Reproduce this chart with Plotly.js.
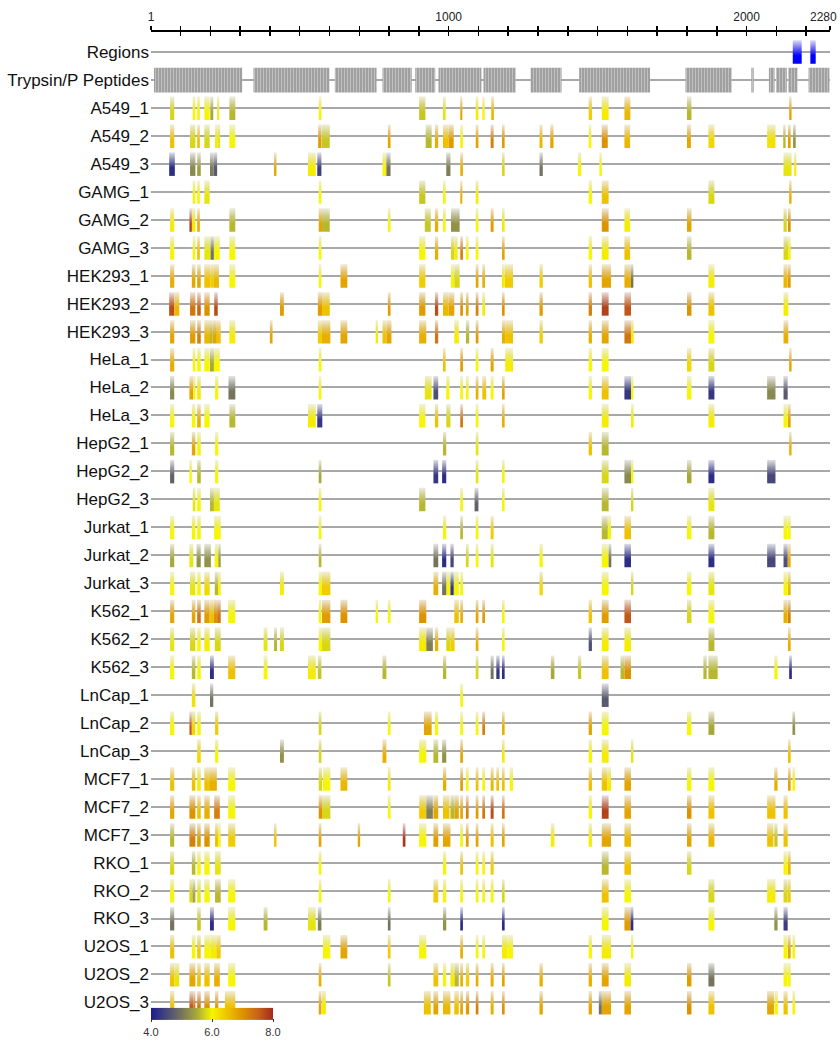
<!DOCTYPE html>
<html>
<head>
<meta charset="utf-8">
<script src="https://cdn.plot.ly/plotly-3.0.1.min.js"></script>
<style>
  html, body { margin: 0; padding: 0; background: #ffffff; }
  #chart { width: 840px; height: 1043px; }
</style>
</head>
<body>
<div id="chart"></div>
<script>
// Sequence ruler (residue positions)
const axisTickValues = [1, 100, 200, 300, 400, 500, 600, 700, 800, 900, 1000, 1100, 1200, 1300, 1400,
  1500, 1600, 1700, 1800, 1900, 2000, 2100, 2200, 2280];
const axisTickLabels = ['1', '', '', '', '', '', '', '', '', '', '1000', '', '', '', '',
  '', '', '', '', '', '2000', '', '', ''];
const sequenceLength = 2280;

// Annotated regions [start, end]
const regions = [[2155, 2185], [2214, 2232]];

// Theoretical Trypsin/P peptide coverage [start, end]
const trypsinPeptides = [[11, 307], [345, 600], [618, 758], [778, 876], [888, 955], [966, 1110],
  [1117, 1225], [1275, 1379], [1438, 1676], [1795, 1950], [2016, 2024], [2075, 2094],
  [2099, 2135], [2140, 2171], [2208, 2278]];

// Observed peptides per sample: [start, end, log10 intensity]
const A549_1 = [[65,79,5.8],[141,150,6.0],[156,165,6.0],[180,198,6.0],[200,210,5.5],[223,230,6.1],[264,284,5.6],[564,573,6.0],[901,922,5.7],[981,990,5.9],[1039,1046,6.8],[1091,1100,6.1],[1113,1121,6.0],[1143,1152,6.6],[1470,1481,6.4],[1514,1537,6.1],[1590,1610,6.6],[1800,1815,5.6],[2143,2151,6.8]];
const A549_2 = [[65,79,6.5],[132,150,5.8],[156,165,6.5],[180,198,5.8],[216,224,6.1],[224,233,5.9],[264,284,6.0],[562,573,6.9],[574,601,5.7],[796,805,6.8],[923,943,5.6],[954,965,6.7],[981,1000,6.5],[1000,1017,6.9],[1039,1048,6.0],[1091,1100,6.8],[1141,1151,7.2],[1179,1188,6.9],[1305,1315,6.6],[1341,1352,6.8],[1470,1479,6.0],[1514,1534,7.0],[1590,1609,6.6],[1800,1813,6.8],[1872,1892,6.3],[2069,2097,6.2],[2123,2131,5.6],[2139,2148,6.9],[2156,2165,5.3]];
const A549_3 = [[62,81,4.2],[132,150,5.2],[156,168,5.4],[199,211,5.1],[211,223,4.7],[414,422,6.8],[528,554,6.1],[559,573,4.4],[778,791,6.0],[791,805,5.0],[992,1006,5.1],[1039,1048,6.7],[1179,1188,5.8],[1305,1316,5.0],[1434,1445,6.0],[1506,1514,6.0],[2124,2151,5.9],[2160,2167,6.1]];
const GAMG_1 = [[141,150,6.0],[156,165,6.0],[180,198,5.9],[564,573,6.0],[901,922,5.7],[981,990,6.0],[1039,1046,6.7],[1091,1100,6.1],[1470,1481,6.0],[1514,1537,6.5],[1872,1892,5.8],[2143,2151,6.7]];
const GAMG_2 = [[65,79,6.1],[130,138,7.8],[138,150,6.1],[156,165,6.7],[264,284,5.6],[564,575,6.8],[575,601,5.6],[796,805,6.0],[920,940,5.7],[954,965,6.7],[981,990,6.0],[1008,1037,5.3],[1091,1100,6.0],[1141,1151,6.9],[1179,1188,6.1],[1514,1537,7.0],[1590,1609,6.1],[1800,1815,6.8],[2124,2135,5.8],[2139,2148,7.0]];
const GAMG_3 = [[65,79,6.0],[141,150,6.0],[156,165,6.5],[180,201,5.9],[201,212,5.0],[212,232,6.0],[264,284,6.0],[564,573,6.0],[901,922,6.0],[954,965,6.7],[1008,1019,5.8],[1019,1030,6.1],[1039,1048,7.2],[1058,1067,6.0],[1091,1100,6.0],[1179,1188,6.8],[1470,1481,6.0],[1514,1537,6.1],[1590,1609,6.5],[1800,1815,5.6],[2124,2140,5.8],[2140,2148,6.0]];
const HEK293_1 = [[65,79,6.7],[138,150,6.8],[156,168,6.8],[180,201,6.5],[201,212,6.4],[212,229,6.6],[264,284,6.0],[564,573,6.0],[637,660,6.8],[901,922,6.4],[1008,1019,6.0],[1019,1037,5.8],[1091,1100,6.8],[1113,1122,6.7],[1179,1188,6.1],[1188,1216,6.4],[1305,1316,6.4],[1470,1481,6.5],[1514,1545,6.8],[1590,1612,6.7],[1612,1620,5.0],[1872,1892,6.1],[2124,2138,6.6],[2139,2148,6.9]];
const HEK293_2 = [[62,79,7.7],[79,96,6.6],[132,150,7.3],[156,168,7.5],[180,198,7.0],[213,225,7.7],[434,447,6.9],[561,575,6.9],[575,601,6.5],[796,805,6.9],[901,922,6.9],[954,965,7.7],[981,1000,6.6],[1000,1019,6.8],[1039,1048,7.0],[1058,1067,6.8],[1091,1100,7.2],[1113,1122,6.1],[1179,1188,7.0],[1305,1316,6.9],[1470,1481,7.2],[1514,1537,7.8],[1590,1612,7.6],[1800,1815,7.0],[1872,1892,6.5],[2124,2140,6.1]];
const HEK293_3 = [[65,79,6.8],[132,150,6.9],[156,168,7.2],[180,199,6.6],[199,208,5.6],[208,222,6.8],[222,235,6.5],[264,284,6.1],[400,409,6.8],[561,575,6.4],[575,603,6.7],[637,660,6.8],[755,763,6.1],[778,791,6.5],[791,808,6.8],[901,925,6.7],[954,965,7.3],[1019,1034,6.1],[1058,1069,5.6],[1091,1100,6.9],[1179,1190,6.7],[1190,1216,6.5],[1305,1316,6.4],[1470,1481,6.7],[1514,1537,6.8],[1590,1612,7.3],[1612,1621,6.1],[1872,1892,6.0],[2124,2140,6.7]];
const HeLa_1 = [[65,79,6.7],[141,150,6.0],[156,168,6.0],[180,198,6.0],[199,212,5.5],[212,232,6.0],[564,573,6.0],[981,990,6.5],[1039,1048,6.9],[1091,1100,6.0],[1141,1151,6.8],[1190,1216,6.1],[1470,1481,6.0],[1514,1537,6.0],[1800,1815,6.3],[1872,1892,5.8],[2143,2151,6.8]];
const HeLa_2 = [[65,79,5.2],[130,143,6.8],[143,150,6.0],[156,168,6.1],[216,227,6.0],[261,284,5.0],[564,573,6.0],[920,943,5.9],[949,965,4.6],[992,1003,6.0],[1039,1048,6.0],[1058,1067,6.0],[1091,1100,6.7],[1113,1126,6.5],[1141,1151,6.0],[1179,1188,6.8],[1470,1481,6.0],[1514,1537,6.5],[1590,1612,4.3],[1612,1620,6.0],[1800,1815,6.0],[1872,1892,4.3],[2069,2097,5.2],[2124,2138,4.7]];
const HeLa_3 = [[65,79,6.0],[138,150,6.0],[156,168,6.7],[180,198,6.0],[264,284,5.6],[528,554,6.1],[559,576,4.3],[901,922,6.0],[954,965,6.5],[992,1006,5.8],[1039,1048,7.3],[1091,1100,6.0],[1179,1188,6.7],[1514,1537,6.1],[1612,1621,6.1],[1872,1892,6.1],[2124,2138,6.0],[2139,2148,6.8]];
const HepG2_1 = [[65,79,5.6],[138,150,6.8],[156,168,6.0],[216,227,6.0],[981,992,5.6],[1091,1100,5.9],[1470,1481,6.5],[1514,1537,5.6],[2143,2151,6.7]];
const HepG2_2 = [[65,79,4.8],[130,138,6.0],[156,168,5.6],[216,227,6.0],[564,573,5.5],[949,965,4.3],[978,992,4.2],[1091,1100,5.9],[1179,1188,6.0],[1514,1537,5.8],[1590,1612,5.2],[1612,1620,6.0],[1800,1815,5.5],[1872,1892,4.2],[2069,2097,4.5]];
const HepG2_3 = [[141,150,5.9],[156,168,6.0],[199,212,5.6],[212,232,5.9],[564,573,6.0],[901,922,5.6],[1039,1048,6.0],[1087,1100,4.8],[1179,1188,6.0],[1514,1537,5.6],[1612,1620,5.8],[1872,1892,5.9]];
const Jurkat_1 = [[65,79,6.0],[138,150,6.0],[156,168,6.0],[213,235,6.0],[564,573,6.0],[981,992,6.0],[1039,1048,5.6],[1091,1100,6.0],[1141,1151,6.4],[1514,1534,5.6],[1534,1545,6.0],[1590,1612,6.5],[1800,1815,6.0],[1872,1892,5.6],[2124,2138,6.0],[2139,2148,6.0]];
const Jurkat_2 = [[65,79,5.5],[130,143,5.9],[154,168,5.3],[180,202,5.3],[215,227,6.0],[227,235,5.4],[564,573,5.6],[949,965,5.0],[978,992,4.2],[1006,1017,4.5],[1058,1067,5.8],[1091,1100,6.0],[1141,1151,5.9],[1305,1316,6.0],[1514,1537,6.0],[1537,1546,5.0],[1590,1612,4.2],[1872,1892,4.2],[2069,2097,4.5],[2124,2138,4.6],[2139,2148,6.7]];
const Jurkat_3 = [[65,79,6.0],[132,150,5.9],[156,168,6.0],[180,198,6.3],[215,226,5.6],[226,235,6.0],[434,447,6.1],[564,575,6.0],[575,603,6.4],[949,965,6.7],[978,992,5.0],[992,1006,6.0],[1006,1017,4.3],[1017,1034,6.0],[1039,1048,6.0],[1305,1316,6.3],[1514,1537,6.0],[1612,1620,5.8],[1800,1815,6.0],[1872,1892,5.9],[2124,2138,6.0],[2139,2148,6.6]];
const K562_1 = [[65,79,6.8],[138,150,6.8],[156,168,7.3],[180,198,6.9],[198,212,6.5],[212,223,7.0],[223,235,7.3],[260,284,6.0],[564,573,6.0],[575,603,6.9],[637,660,7.0],[755,763,6.0],[796,805,6.0],[901,925,7.0],[1019,1034,6.5],[1039,1048,6.7],[1091,1100,6.8],[1113,1122,6.9],[1179,1188,6.0],[1470,1481,6.5],[1514,1537,6.9],[1590,1612,7.6],[1800,1815,5.8],[1872,1892,6.0],[2124,2138,6.7],[2139,2148,7.2]];
const K562_2 = [[65,79,5.9],[132,150,5.8],[156,168,6.0],[180,198,6.1],[215,235,5.8],[379,392,5.9],[414,424,5.6],[434,447,5.8],[564,575,6.0],[575,603,5.8],[901,925,6.1],[925,947,5.1],[954,965,6.7],[992,1006,5.8],[1006,1020,6.4],[1091,1100,6.7],[1179,1188,6.0],[1470,1481,4.6],[1514,1537,6.1],[1590,1612,6.1],[1872,1892,5.6],[2139,2148,6.7]];
const K562_3 = [[65,79,6.0],[138,150,5.6],[156,168,6.0],[199,212,4.2],[260,284,6.5],[379,392,6.0],[528,554,6.1],[561,573,5.7],[778,791,5.6],[981,992,5.6],[1091,1100,5.8],[1141,1151,5.0],[1160,1171,4.3],[1179,1188,4.2],[1343,1355,5.5],[1434,1445,5.7],[1514,1537,6.5],[1577,1590,5.6],[1590,1612,7.0],[1855,1866,5.6],[1872,1903,5.6],[2093,2104,6.0],[2143,2152,4.2]];
const LnCap_1 = [[138,150,6.2],[199,210,5.0],[1039,1048,6.0],[1514,1537,4.7]];
const LnCap_2 = [[65,79,6.0],[130,138,7.6],[138,150,6.3],[156,168,6.0],[216,227,6.4],[564,573,5.8],[796,805,6.0],[917,943,6.8],[954,965,6.0],[1039,1048,6.0],[1091,1100,6.0],[1113,1122,7.2],[1179,1188,6.7],[1470,1481,6.8],[1514,1537,6.0],[1800,1815,6.0],[1872,1892,5.5],[2154,2163,5.3]];
const LnCap_3 = [[156,168,6.3],[216,227,6.0],[434,447,5.3],[564,573,5.8],[778,791,6.7],[901,925,6.0],[949,965,5.6],[978,992,5.3],[1039,1048,6.8],[1179,1188,6.1],[1470,1481,6.0],[1514,1537,6.1],[1612,1620,5.9],[2139,2148,6.5]];
const MCF7_1 = [[65,79,6.5],[138,150,6.5],[156,168,6.1],[180,199,6.5],[199,222,6.7],[260,284,6.0],[564,575,5.8],[578,603,6.0],[637,660,6.6],[796,805,6.1],[981,992,6.7],[1039,1048,6.9],[1058,1067,6.0],[1091,1100,6.5],[1113,1122,6.0],[1141,1151,6.6],[1160,1169,6.5],[1179,1188,6.5],[1205,1216,6.0],[1470,1481,6.5],[1514,1532,6.5],[1532,1545,6.1],[1590,1612,6.8],[1800,1815,6.0],[1872,1892,6.0],[2093,2104,6.7],[2139,2148,6.8],[2154,2163,6.0]];
const MCF7_2 = [[65,79,6.8],[130,150,7.0],[156,168,6.5],[180,198,6.7],[213,232,7.2],[260,284,6.0],[564,575,7.0],[575,603,5.8],[796,805,6.0],[901,925,6.4],[925,947,5.1],[949,965,6.8],[981,1003,6.5],[1006,1020,5.6],[1020,1034,6.8],[1039,1048,6.8],[1058,1067,7.2],[1091,1100,6.9],[1113,1122,7.3],[1141,1151,7.7],[1179,1188,7.3],[1470,1481,6.0],[1514,1537,7.8],[1590,1612,6.8],[1800,1815,7.0],[1872,1892,6.5],[2069,2097,6.5],[2124,2138,6.5]];
const MCF7_3 = [[65,79,5.6],[130,150,7.2],[156,168,6.9],[180,198,7.0],[216,227,6.5],[227,235,6.0],[260,284,6.4],[414,422,6.5],[564,573,6.8],[695,703,6.8],[846,855,7.9],[901,925,6.0],[949,965,6.9],[981,1006,6.8],[1039,1048,6.0],[1058,1067,6.9],[1091,1100,6.8],[1141,1151,6.5],[1179,1188,6.8],[1343,1355,6.1],[1470,1481,6.1],[1514,1545,6.8],[1590,1612,6.6],[1800,1815,6.8],[1872,1892,6.6],[2069,2090,6.5],[2093,2104,5.7],[2124,2138,6.5]];
const RKO_1 = [[65,79,5.8],[138,150,5.6],[156,168,6.0],[180,198,6.0],[216,235,5.9],[564,573,6.0],[981,992,6.0],[1039,1048,6.5],[1091,1100,6.0],[1113,1122,6.0],[1141,1151,6.4],[1514,1537,5.6],[1590,1612,6.5],[1800,1815,5.8],[2124,2138,6.0],[2139,2148,6.6]];
const RKO_2 = [[65,79,6.0],[130,140,5.8],[140,150,5.5],[156,168,5.9],[180,198,6.0],[216,235,5.6],[260,284,6.0],[564,573,6.0],[796,805,6.0],[949,965,6.4],[981,992,6.0],[1039,1048,6.0],[1091,1100,6.0],[1113,1122,6.0],[1141,1151,6.0],[1179,1188,5.8],[1514,1537,6.5],[1590,1612,6.0],[1872,1892,5.8],[2069,2097,6.1],[2124,2138,5.8],[2139,2148,6.4]];
const RKO_3 = [[65,79,5.0],[156,168,5.7],[199,212,4.2],[260,284,6.0],[379,392,5.6],[528,554,5.9],[561,573,5.1],[796,805,5.0],[981,992,5.3],[1039,1048,4.2],[1179,1188,4.2],[1514,1537,6.0],[1590,1610,6.9],[1610,1620,4.2],[1872,1892,6.0],[2093,2104,5.3],[2124,2138,4.4]];
const U2OS_1 = [[65,79,6.5],[138,150,6.0],[156,168,6.4],[180,201,6.0],[201,220,6.1],[220,235,6.4],[578,603,6.0],[637,660,6.8],[796,805,6.4],[901,925,6.0],[1039,1048,6.7],[1091,1100,6.0],[1113,1122,6.0],[1179,1197,6.1],[1197,1216,6.0],[1470,1481,6.0],[1514,1545,6.1],[1612,1620,6.0],[2124,2138,6.0],[2139,2148,6.8],[2154,2163,6.0]];
const U2OS_2 = [[65,79,6.5],[79,96,5.9],[130,150,6.8],[156,168,6.5],[180,198,6.5],[213,232,6.7],[260,284,6.0],[564,573,6.7],[796,805,5.7],[949,965,6.5],[981,992,6.0],[1006,1020,6.1],[1020,1034,5.6],[1039,1048,6.7],[1058,1069,6.4],[1091,1100,6.7],[1141,1151,6.7],[1179,1188,6.8],[1305,1316,6.7],[1470,1481,6.7],[1514,1537,6.8],[1590,1612,6.1],[1800,1815,6.9],[1872,1892,5.0],[2124,2138,6.0],[2139,2148,6.0]];
const U2OS_3 = [[65,79,6.5],[130,143,7.6],[143,150,7.3],[156,168,7.3],[180,198,7.0],[216,227,6.9],[249,284,6.5],[564,573,6.8],[575,588,6.1],[917,940,6.5],[949,965,6.8],[981,1006,6.6],[1019,1034,6.5],[1039,1048,6.8],[1058,1069,6.9],[1091,1100,7.2],[1141,1151,6.7],[1179,1188,7.0],[1305,1316,6.8],[1470,1481,6.8],[1504,1514,5.0],[1514,1545,6.8],[1590,1612,6.8],[1800,1815,7.0],[1872,1892,6.5],[2069,2092,6.8],[2094,2105,6.0],[2124,2138,6.5],[2154,2163,6.0]];

// Intensity colour scale (log10)
const scaleValues = [4.0, 4.5, 5.0, 5.5, 6.0, 6.5, 7.0, 7.5, 8.0];
const scaleColors = ['#1c1c8e', '#47477a', '#74745e', '#a8a83a', '#f6f600', '#efc200', '#dd9200', '#c8641a', '#a42a1c'];

const samples = [
  ['A549_1', A549_1], ['A549_2', A549_2], ['A549_3', A549_3],
  ['GAMG_1', GAMG_1], ['GAMG_2', GAMG_2], ['GAMG_3', GAMG_3],
  ['HEK293_1', HEK293_1], ['HEK293_2', HEK293_2], ['HEK293_3', HEK293_3],
  ['HeLa_1', HeLa_1], ['HeLa_2', HeLa_2], ['HeLa_3', HeLa_3],
  ['HepG2_1', HepG2_1], ['HepG2_2', HepG2_2], ['HepG2_3', HepG2_3],
  ['Jurkat_1', Jurkat_1], ['Jurkat_2', Jurkat_2], ['Jurkat_3', Jurkat_3],
  ['K562_1', K562_1], ['K562_2', K562_2], ['K562_3', K562_3],
  ['LnCap_1', LnCap_1], ['LnCap_2', LnCap_2], ['LnCap_3', LnCap_3],
  ['MCF7_1', MCF7_1], ['MCF7_2', MCF7_2], ['MCF7_3', MCF7_3],
  ['RKO_1', RKO_1], ['RKO_2', RKO_2], ['RKO_3', RKO_3],
  ['U2OS_1', U2OS_1], ['U2OS_2', U2OS_2], ['U2OS_3', U2OS_3]
];

// ---- helpers ----
const BAR_UP = 0.41;    // bar extent above the track line (row units)
const BAR_DOWN = 0.43;  // bar extent below the track line

function hexRgb(h) {
  return [parseInt(h.slice(1, 3), 16), parseInt(h.slice(3, 5), 16), parseInt(h.slice(5, 7), 16)];
}
function rgbStr(c) { return 'rgb(' + c.map(v => Math.round(v)).join(',') + ')'; }
function mix(a, b, t) { return a.map((v, i) => v + (b[i] - v) * t); }

function intensityColor(v) {
  const n = scaleValues.length;
  if (v <= scaleValues[0]) return hexRgb(scaleColors[0]);
  if (v >= scaleValues[n - 1]) return hexRgb(scaleColors[n - 1]);
  for (let i = 0; i < n - 1; i++) {
    if (v >= scaleValues[i] && v <= scaleValues[i + 1]) {
      const t = (v - scaleValues[i]) / (scaleValues[i + 1] - scaleValues[i]);
      return mix(hexRgb(scaleColors[i]), hexRgb(scaleColors[i + 1]), t);
    }
  }
}

// A set of peptide boxes on one track, filled with a vertical fade (pale top, solid bottom)
function boxTrace(segs, row, rgb, up, down) {
  const x = [], y = [];
  const top = row - up, bottom = row + down;
  segs.forEach(([s, e]) => {
    x.push(s, e, e, s, s, null);
    y.push(bottom, bottom, top, top, bottom, null);
  });
  const solid = rgbStr(rgb);
  const mid = rgbStr(mix(rgb, [225, 225, 225], 0.45));
  const pale = rgbStr(mix(rgb, [242, 242, 242], 0.9));
  return {
    type: 'scatter', mode: 'lines', x, y,
    line: { width: 0 }, fill: 'toself', connectgaps: false,
    fillgradient: {
      type: 'vertical', start: bottom, stop: top,
      colorscale: [[0, solid], [0.35, solid], [0.65, mid], [1, pale]]
    },
    hoverinfo: 'skip', showlegend: false
  };
}

const traces = [];
const rowNames = ['Regions', 'Trypsin/P Peptides'].concat(samples.map(s => s[0]));
const rowPos = rowNames.map((_, i) => i - 2);

// Regions track
traces.push(boxTrace(regions, -2, [0, 0, 255], 0.42, 0.42));

// Trypsin/P peptide track: striped grey blocks
(function () {
  const x = [], y = [];
  const top = -1 - 0.44, bottom = -1 + 0.45;
  trypsinPeptides.forEach(([s, e]) => {
    x.push(s, e, e, s, s, null);
    y.push(bottom, bottom, top, top, bottom, null);
  });
  traces.push({
    type: 'scatter', mode: 'lines', x, y, line: { width: 0 },
    fill: 'toself', connectgaps: false, fillcolor: '#a0a0a0',
    fillpattern: { shape: '|', bgcolor: '#a0a0a0', fgcolor: '#ffffff', fgopacity: 0.45, size: 3, solidity: 0.25 },
    hoverinfo: 'skip', showlegend: false
  });
})();

// Sample tracks: one trace per distinct intensity within a track
samples.forEach(([name, bars], i) => {
  const groups = new Map();
  bars.forEach(([s, e, v]) => {
    if (!groups.has(v)) groups.set(v, []);
    groups.get(v).push([s, e]);
  });
  groups.forEach((segs, v) => traces.push(boxTrace(segs, i, intensityColor(v), BAR_UP, BAR_DOWN)));
});

// Colour bar
const cbScale = scaleValues.map((v, i) => [(v - 4) / 4, scaleColors[i]]);
traces.push({
  type: 'scatter', mode: 'markers', x: [-500, -500], y: [0, 0],
  marker: {
    color: [4, 8], cmin: 4, cmax: 8, colorscale: cbScale, size: 1, opacity: 0,
    showscale: true,
    colorbar: {
      orientation: 'h', x: 0, xanchor: 'left', y: -0.0071, yanchor: 'middle',
      len: 122, lenmode: 'pixels', thickness: 12, xpad: 0, ypad: 0,
      outlinewidth: 0, tickvals: [4, 6, 8], ticktext: ['4.0', '6.0', '8.0'],
      ticks: 'outside', ticklen: 3, tickcolor: '#333',
      tickfont: { family: 'Liberation Sans, Arial, sans-serif', size: 11, color: '#333' }
    }
  },
  hoverinfo: 'skip', showlegend: false
});

// Second top axis carrying the downward half of the ruler ticks
traces.push({ type: 'scatter', mode: 'markers', x: [-500], y: [0], xaxis: 'x2', yaxis: 'y',
  marker: { opacity: 0 }, hoverinfo: 'skip', showlegend: false });

const layout = {
  width: 840, height: 1043,
  paper_bgcolor: '#ffffff', plot_bgcolor: '#ffffff',
  margin: { l: 151, r: 10, t: 32, b: 27, autoexpand: false },
  font: { family: 'Liberation Sans, Arial, sans-serif', color: '#111' },
  showlegend: false,
  xaxis: {
    range: [1, sequenceLength], side: 'top', anchor: 'y',
    showline: true, linecolor: '#000', linewidth: 2,
    tickmode: 'array', tickvals: axisTickValues, ticktext: axisTickLabels,
    ticks: 'outside', ticklen: 4, tickwidth: 1.5, tickcolor: '#000',
    tickfont: { size: 12, color: '#222' },
    showgrid: false, zeroline: false, fixedrange: true
  },
  xaxis2: {
    range: [1, sequenceLength], side: 'top', overlaying: 'x', anchor: 'y',
    showline: false, tickmode: 'array', tickvals: axisTickValues,
    ticks: 'inside', ticklen: 4, tickwidth: 1.5, tickcolor: '#000',
    showticklabels: false, showgrid: false, zeroline: false, fixedrange: true
  },
  yaxis: {
    range: [32.487, -2.719],
    tickmode: 'array', tickvals: rowPos, ticktext: rowNames,
    ticks: '', ticklabelstandoff: 1,
    tickfont: { size: 17, color: '#111' },
    showgrid: true, gridcolor: '#a8a8a8', gridwidth: 2,
    zeroline: false, showline: false, fixedrange: true
  },
  // sequence-length label at the right end of the ruler, kept inside the page
  annotations: [{
    xref: 'x', yref: 'paper', x: sequenceLength, y: 1,
    xanchor: 'right', yanchor: 'middle', xshift: 9, yshift: 15,
    text: String(sequenceLength), showarrow: false,
    font: { family: 'Liberation Sans, Arial, sans-serif', size: 12, color: '#222' }
  }]
};

Plotly.newPlot('chart', traces, layout, { staticPlot: true, displayModeBar: false });
</script>
</body>
</html>
